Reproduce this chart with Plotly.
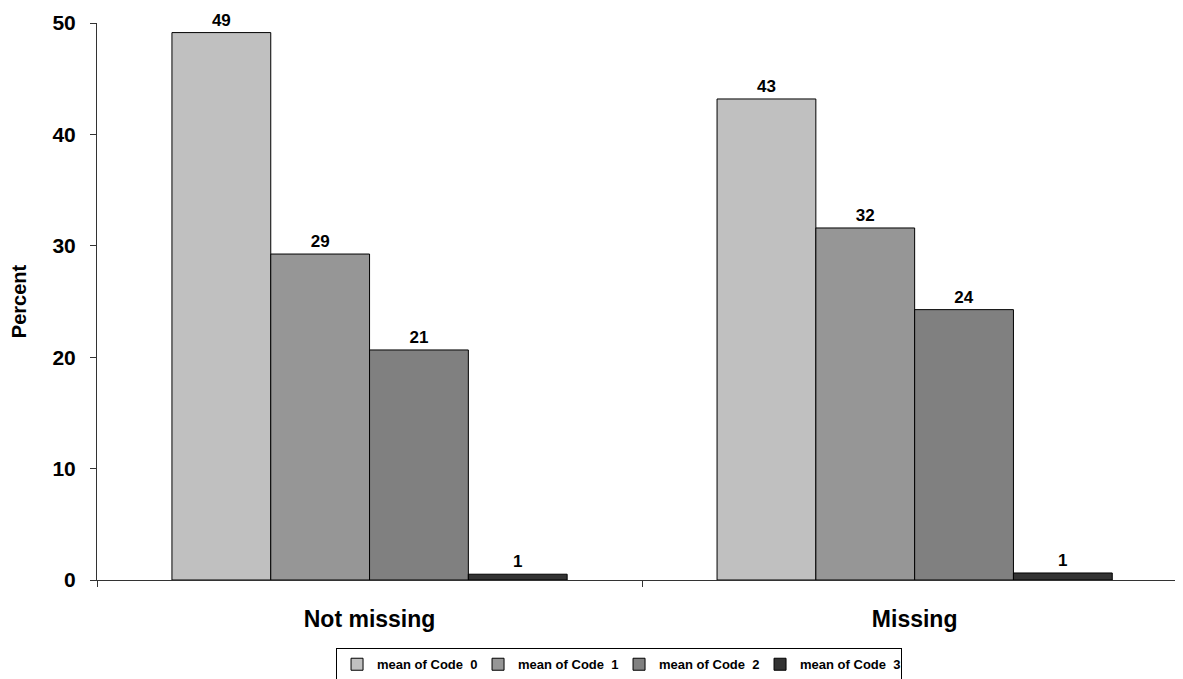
import plotly.graph_objects as go

categories = ["Not missing", "Missing"]
series_names = ["mean of Code  0", "mean of Code  1", "mean of Code  2", "mean of Code  3"]
code0 = [49.14, 43.18]
code1 = [29.26, 31.6]
code2 = [20.65, 24.27]
code3 = [0.52, 0.63]
series_values = [code0, code1, code2, code3]
colors = ["#C0C0C0", "#969696", "#808080", "#333333"]
y_ticks = [0, 10, 20, 30, 40, 50]

FONT = "Liberation Sans, Arial, sans-serif"

fig = go.Figure()
for name, vals, col in zip(series_names, series_values, colors):
    fig.add_trace(go.Bar(
        x=categories, y=vals, name=name,
        marker=dict(color=col, line=dict(color="#000000", width=1)),
        texttemplate="<b>%{y:.0f}</b>", textposition="outside",
        textfont=dict(family=FONT, size=17, color="#000000"),
        cliponaxis=False,
    ))

fig.update_layout(
    width=1175, height=671,
    margin=dict(l=89, r=0, t=15, b=99, autoexpand=False),
    paper_bgcolor="white", plot_bgcolor="white",
    barmode="group", bargap=0.275, bargroupgap=0,
    font=dict(family=FONT, color="#000000"),
    showlegend=True,
    legend=dict(
        orientation="h", x=0.4807, xanchor="center", y=-0.1226, yanchor="top",
        bordercolor="#000000", borderwidth=1, bgcolor="white",
        font=dict(family=FONT, size=13, color="#000000", weight="bold"),
        itemwidth=30, entrywidth=96,
    ),
    xaxis=dict(
        range=[-0.5, 1.4923], showline=True, linecolor="#333333", linewidth=1,
        ticks="outside", tickson="boundaries", ticklen=6, tickcolor="#333333",
        tickfont=dict(family=FONT, size=23, color="#000000", weight="bold"),
        showgrid=False, zeroline=False, ticklabelstandoff=18, automargin=False,
    ),
    yaxis=dict(
        range=[0, 50], tickvals=y_ticks, showline=True, linecolor="#333333", linewidth=1,
        ticks="outside", ticklen=6, tickcolor="#333333",
        tickfont=dict(family=FONT, size=21, color="#000000", weight="bold"),
        showgrid=False, zeroline=False, ticklabelstandoff=10, automargin=False,
        title=dict(text="<b>Percent</b>", font=dict(family=FONT, size=20, color="#000000"), standoff=22),
    ),
)

fig.write_html("out.html")
